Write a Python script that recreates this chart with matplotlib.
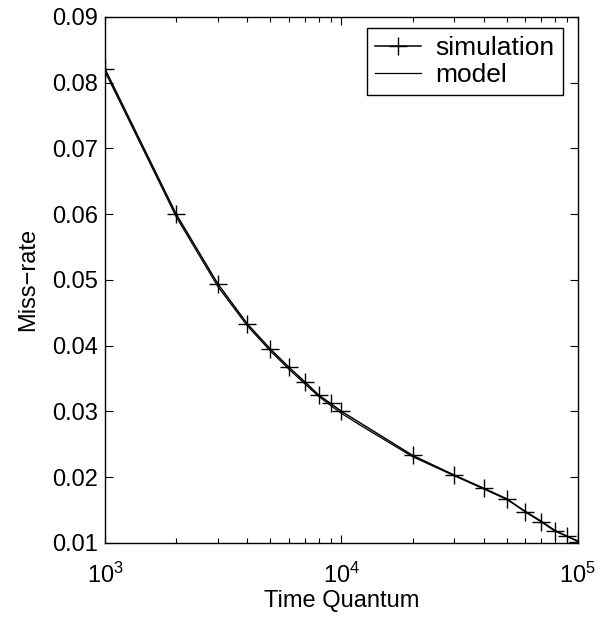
import numpy as np
import matplotlib
matplotlib.use("Agg")
import matplotlib.pyplot as plt
from matplotlib.ticker import FormatStrFormatter, LogLocator

# valores
quantum = [1000, 2000, 3000, 4000, 5000, 6000, 7000, 8000, 9000, 10000,
           20000, 30000, 40000, 50000, 60000, 70000, 80000, 90000, 100000]
simulacao = [0.0821, 0.0600, 0.0494, 0.0433, 0.0395, 0.0367, 0.0345, 0.0325, 0.0312, 0.0300,
             0.0233, 0.0203, 0.0183, 0.0167, 0.0147, 0.0132, 0.0118, 0.0110, 0.0102]

quantum_modelo = [1000, 2000, 3000, 4000, 5000, 6000, 7000, 8000, 9000, 10000, 12000, 15000,
                  20000, 30000, 40000, 50000, 60000, 70000, 80000, 90000, 100000]
modelo = [0.0817, 0.0596, 0.0490, 0.0430, 0.0392, 0.0364, 0.0342, 0.0323, 0.0309, 0.0297,
          0.0279, 0.0258, 0.0231, 0.0202, 0.0182, 0.0166, 0.0148, 0.0133, 0.0119, 0.0110, 0.0103]

plt.rcParams['font.family'] = ['Liberation Sans', 'DejaVu Sans']
plt.rcParams['mathtext.fontset'] = 'custom'
plt.rcParams['mathtext.rm'] = 'Liberation Sans'
plt.rcParams['mathtext.it'] = 'Liberation Sans'

fig = plt.figure(figsize=(6.07, 6.29), dpi=100)
ax = fig.add_axes([0.173, 0.137, 0.779, 0.836])

ax.plot(quantum, simulacao, color='black', lw=1.1, marker='+', ms=13, mew=1.0, label='simulation')
ax.plot(quantum_modelo, modelo, color='black', lw=0.9, label='model')

ax.set_xscale('log')
ax.set_xlim(1e3, 1e5)
ax.set_ylim(0.01, 0.09)
ax.set_yticks(np.arange(0.01, 0.0901, 0.01))
ax.yaxis.set_major_formatter(FormatStrFormatter('%.2f'))
ax.xaxis.set_minor_locator(LogLocator(base=10, subs=np.arange(2, 10)))

ax.tick_params(which='both', direction='in', top=True, right=True, labelsize=17, width=0.8)
ax.tick_params(which='major', length=6, pad=5)
ax.tick_params(axis='x', which='major', pad=14)
ax.tick_params(which='minor', length=3.5)
for s in ax.spines.values():
    s.set_linewidth(1.0)

ax.set_xlabel('Time Quantum', fontsize=17, labelpad=2)
ax.set_ylabel('Miss\u2212rate', fontsize=17, labelpad=9)

leg = ax.legend(loc='upper right', bbox_to_anchor=(0.968, 0.979), fontsize=19,
                fancybox=False, framealpha=1, edgecolor='black',
                handlelength=1.75, handletextpad=0.55, borderaxespad=0,
                labelspacing=0.12, borderpad=0.3)
leg.get_frame().set_linewidth(1.0)

fig.savefig('out.png', dpi=100)
